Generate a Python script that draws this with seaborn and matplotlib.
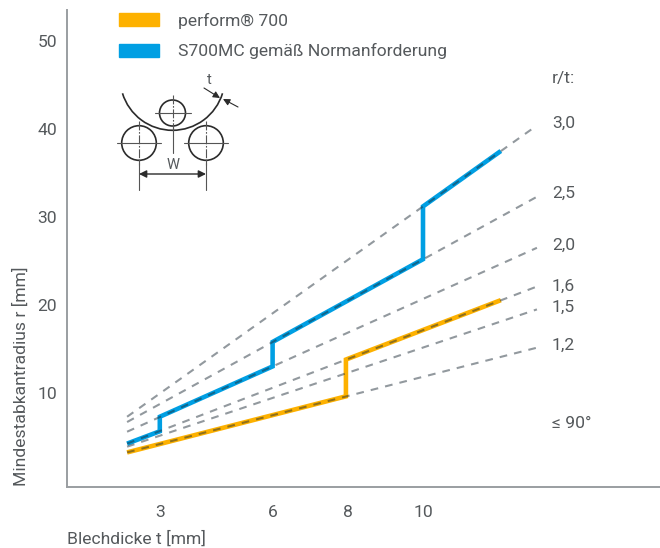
import numpy as np
import pandas as pd
import matplotlib
matplotlib.use("Agg")
import matplotlib.pyplot as plt
from matplotlib.patches import Patch, Circle, Arc
import seaborn as sns

sns.set_theme(style="white")
plt.rcParams['font.family'] = ['Roboto', 'DejaVu Sans']

TXT = '#55595c'
SP = '#9a9ea1'
ORANGE = '#fdb100'
BLUE = '#009fe3'
FS = 12.6

xticks = [3, 6, 8, 10]
yticks = [10, 20, 30, 40, 50]
ratio_labels = ['3,0', '2,5', '2,0', '1,6', '1,5', '1,2']
fan_t = [2.13, 13.03]
fan_30 = [7.3, 40.4]
fan_25 = [6.7, 32.3]
fan_20 = [5.6, 26.5]
fan_16 = [4.25, 22.1]
fan_15 = [3.9, 19.5]
fan_12 = [3.25, 15.15]
blue_t = [2.13, 3, 3, 6, 6, 10, 10, 12.07]
blue_r = [4.25, 5.65, 7.3, 13.02, 15.8, 25.2, 31.2, 37.5]
orange_t = [2.13, 7.95, 7.95, 12.07]
orange_r = [3.25, 9.62, 13.8, 20.55]

fig = plt.figure(figsize=(6.6, 5.48), dpi=100)
W, H = 660, 548
ax = fig.add_axes([67/W, 1-487/H, (W-67)/W, (487-10)/H])
ax.set_xlim((67-47)/37.6, (660-47)/37.6)
ax.set_ylim((481-487)/8.8, (481-10)/8.8)

for t, r, c in [(blue_t, blue_r, BLUE), (orange_t, orange_r, ORANGE)]:
    sns.lineplot(x=t, y=r, ax=ax, estimator=None, sort=False, color=c, lw=3.3,
                 solid_joinstyle='miter', solid_capstyle='butt', zorder=2)
for r in [fan_30, fan_25, fan_20, fan_16, fan_15, fan_12]:
    sns.lineplot(x=fan_t, y=r, ax=ax, estimator=None, sort=False, color='#1c2a35', alpha=0.48,
                 lw=1.5, linestyle=(0, (3.7, 3.4)), zorder=3)

for s in ['top', 'right']:
    ax.spines[s].set_visible(False)
for s in ['left', 'bottom']:
    ax.spines[s].set_color(SP)
    ax.spines[s].set_linewidth(1.4)
ax.set_xticks(xticks)
ax.set_yticks(yticks)
ax.tick_params(axis='both', length=0, labelsize=FS, labelcolor=TXT)
ax.tick_params(axis='x', pad=13)
ax.tick_params(axis='y', pad=7)
ax.set_xlabel('Blechdicke t [mm]', fontsize=FS, color=TXT, ha='left', va='center')
ax.xaxis.set_label_coords(0, -(539-487)/477)
ax.set_ylabel('Mindestabkantradius r [mm]', fontsize=FS, color=TXT, va='center')
ax.yaxis.set_label_coords(-46.5/593, (487-376)/477)

ax.legend(handles=[Patch(color=ORANGE, label='perform® 700'),
                   Patch(color=BLUE, label='S700MC gemäß Normanforderung')],
          loc='upper left', bbox_to_anchor=((119-67)/593, 1.0 - 2.5/477), borderaxespad=0, borderpad=0,
          frameon=False, fontsize=FS, handlelength=2.27, handleheight=0.74,
          handletextpad=1.08, labelspacing=0.84, labelcolor=TXT)

# pixel overlay for annotations and the bending sketch
ov = fig.add_axes([0, 0, 1, 1], facecolor='none')
ov.set_xlim(0, W); ov.set_ylim(H, 0); ov.axis('off')
ov.text(552, 78, 'r/t:', fontsize=FS, color=TXT, va='center')
for lab, y in zip(ratio_labels, [123, 193, 245, 286, 307, 345]):
    ov.text(552, y, lab, fontsize=FS, color=TXT, va='center')
ov.text(552, 423, '≤ 90°', fontsize=FS, color=TXT, va='center')

K = '#2b2b2b'
G = '#555555'
for cx, cy, rad, ext in [(172.5, 113, 13, 5), (139, 143, 17.3, 5), (206, 143, 17.3, 5)]:
    ov.add_patch(Circle((cx, cy), rad, fill=False, ec=K, lw=1.2))
    ov.plot([cx-rad-ext, cx+rad+ext], [cy, cy], color=G, lw=0.8)
    ov.plot([cx, cx], [cy-rad-ext, cy+rad+ext], color=G, lw=0.8, ls=(0, (8, 1.5, 1.5, 1.5)))
ov.plot([172.5, 172.5], [126, 153], color=G, lw=0.8)
ov.add_patch(Arc((172.5, 78), 104.6, 104.6, theta1=17, theta2=163, ec=K, lw=1.2))
ov.plot([139, 139], [160, 190], color=G, lw=0.8)
ov.plot([206, 206], [160, 190], color=G, lw=0.8)
ov.annotate('', xy=(139, 174), xytext=(206, 174),
            arrowprops=dict(arrowstyle='<|-|>', color=K, lw=1.0, shrinkA=0, shrinkB=0, mutation_scale=11))
ov.text(173, 165, 'W', fontsize=10.5, color=TXT, ha='center', va='center')
ov.text(209, 80, 't', fontsize=10.5, color=TXT, ha='center', va='center')
ov.annotate('', xy=(220, 98), xytext=(204, 88),
            arrowprops=dict(arrowstyle='-|>', color=K, lw=0.8, shrinkA=0, shrinkB=0, mutation_scale=10))
ov.annotate('', xy=(223, 99), xytext=(238, 107),
            arrowprops=dict(arrowstyle='-|>', color=K, lw=0.8, shrinkA=0, shrinkB=0, mutation_scale=10))

fig.savefig('out.png', dpi=100)
